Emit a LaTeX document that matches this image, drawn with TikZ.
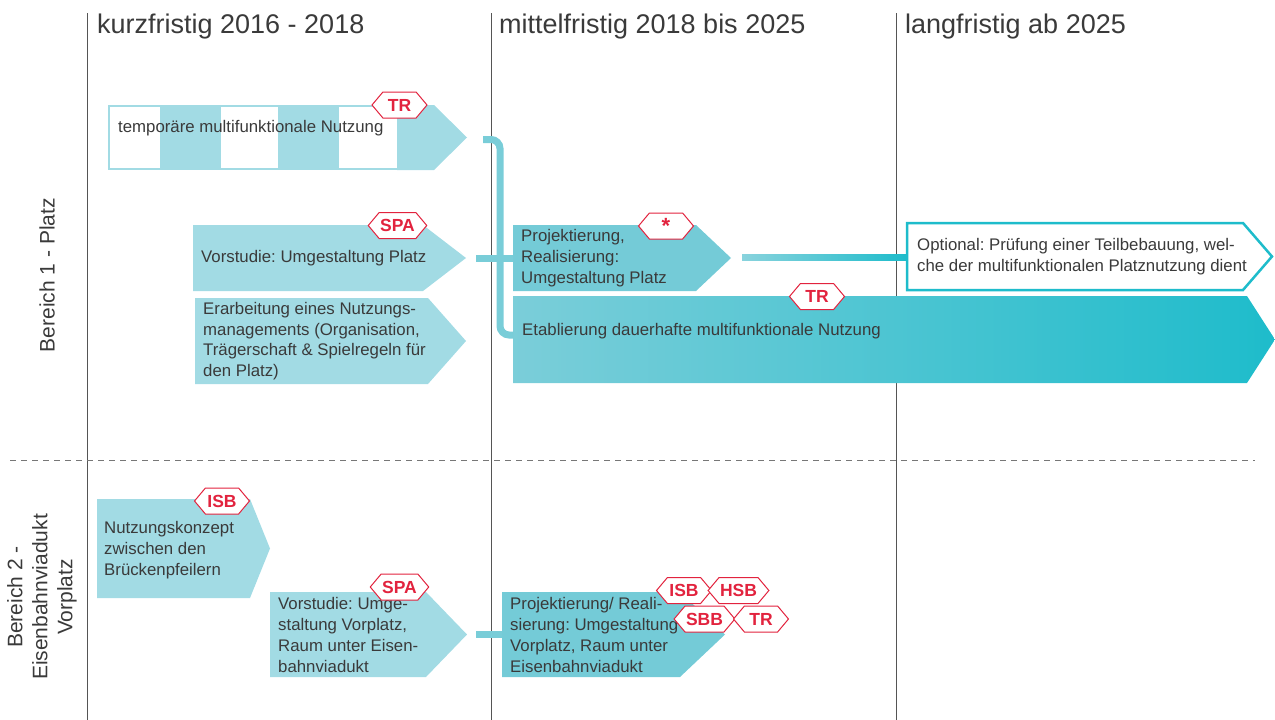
\documentclass[tikz,border=0pt]{standalone}
\usepackage{fontspec}
\setmainfont{Liberation Sans}
\usetikzlibrary{calc,shapes.symbols}
\frenchspacing

\definecolor{lightblue}{HTML}{A2DBE4}
\definecolor{midblue}{HTML}{74CBD7}
\definecolor{teal}{HTML}{1EBCCB}
\definecolor{badgered}{HTML}{E2233E}
\definecolor{txtgray}{HTML}{3A3A3A}
\definecolor{linegray}{HTML}{555555}

% arrow body: name, path options, left, top, head start, bottom, tip
\newcommand{\phasearrow}[7]{%
  \path[#2] (#3,#4) -- (#5,#4) -- (#7,{(#4+#6)/2}) -- (#5,#6) -- (#3,#6) -- cycle;
  \coordinate (#1-in) at (#3,{(#4+#6)/2});
  \coordinate (#1-tip) at (#7,{(#4+#6)/2});}

\tikzset{
  steptext/.style={anchor=west, align=left, inner sep=0pt, text=txtgray,
    font=\fontsize{16.8}{20.7}\selectfont},
  header/.style={anchor=base west, inner sep=0pt, text=txtgray,
    font=\fontsize{27}{30}\selectfont},
  sidelabel/.style={rotate=90, align=center, inner sep=0pt, text=txtgray,
    font=\fontsize{21}{25}\selectfont},
  badge/.style={shape=signal, signal to=west and east, signal pointer angle=100,
    draw=badgered, line width=1pt, fill=white, text=badgered,
    minimum width=55pt, minimum height=26pt, inner sep=1pt,
    font=\fontsize{17.5}{18}\selectfont\bfseries},
  link/.style={line width=7pt, midblue!90!lightblue},
}

\begin{document}
\begin{tikzpicture}[x=1pt, y=-1pt]
  \useasboundingbox (0,0) rectangle (1275,720);

  % time columns
  \foreach \xx in {87,491,896}
    \draw[linegray, line width=1pt] (\xx,13) -- (\xx,720);
  \draw[linegray!80, line width=1pt, dash pattern=on 6pt off 5pt] (10,460) -- (1255,460);

  \node[header] (kurz) at (97,33) {kurzfristig 2016 - 2018};
  \node[header] (mittel) at (499,33) {mittelfristig 2018 bis 2025};
  \node[header] (lang) at (905,33) {langfristig ab 2025};

  \node[sidelabel] (bereichA) at (47,275) {Bereich 1 - Platz};
  \node[sidelabel] (bereichB) at (42,597) {Bereich 2 -\\Eisenbahnviadukt\\Vorplatz};

  % Bereich 1
  \foreach \a/\b in {160/221,278/339}
    \fill[lightblue] (\a,105) rectangle (\b,170);
  \draw[lightblue, line width=2pt] (109,106) rectangle (398,169);
  \phasearrow{temp}{fill=lightblue}{397}{105}{434}{170}{467}
  \node[steptext] (tempText) at (118,128) {temporäre multifunktionale Nutzung};

  \phasearrow{vorPlatz}{fill=lightblue}{193}{225}{423}{291}{466}
  \node[steptext] (vorPlatzText) at (201,258) {Vorstudie: Umgestaltung Platz};

  \phasearrow{erarb}{fill=lightblue}{195}{298}{428}{384}{466}
  \node[steptext] (erarbText) at (203,341) {Erarbeitung eines Nutzungs-\\managements (Organisation,\\Trägerschaft \& Spielregeln für\\den Platz)};

  \phasearrow{projPlatz}{fill=midblue}{513}{225}{696}{291}{731}
  \node[steptext] (projPlatzText) at (521,258) {Projektierung,\\Realisierung:\\Umgestaltung Platz};

  \phasearrow{etab}{left color=midblue!95!white, right color=teal}{513}{296}{1247}{383}{1275}
  \node[steptext] (etabText) at (522,331) {Etablierung dauerhafte multifunktionale Nutzung};

  \phasearrow{optional}{fill=white, draw=teal, line width=2.5pt}{907}{223}{1243}{290}{1272}
  \node[steptext] (optionalText) at (917,256.5) {Optional: Prüfung einer Teilbebauung, wel-\\che der multifunktionalen Platznutzung dient};

  \draw[link, rounded corners=9pt] ($(temp-tip)+(16,2)$) -| ($(etab-in)+(-13,-4.5)$) -- ($(etab-in)+(0,-4.5)$);
  \draw[link] ($(vorPlatz-tip)+(10,0)$) -- (projPlatz-in);
  \shade[left color=midblue!85!white, right color=teal] ($(projPlatz-tip)+(11,-4)$) rectangle ($(optional-in)+(-1,4)$);

  \node[badge] (trTemp) at (399.5,105) {TR};
  \node[badge] (spaPlatz) at (397.5,225.5) {SPA};
  \node[badge] (starProj) at (666,226) {\fontsize{22}{22}\selectfont\raisebox{-6pt}{*}};
  \node[badge] (trEtab) at (817,296.5) {TR};

  % Bereich 2
  \phasearrow{nutzKonz}{fill=lightblue}{97}{499}{250}{598}{270}
  \node[steptext] (nutzKonzText) at (104,550) {Nutzungskonzept\\zwischen den\\Brückenpfeilern};

  \phasearrow{vorVorplatz}{fill=lightblue}{270}{592}{426}{677}{467}
  \node[steptext] (vorVorplatzText) at (278,635) {Vorstudie: Umge-\\staltung Vorplatz,\\Raum unter Eisen-\\bahnviadukt};

  \phasearrow{projVorplatz}{fill=midblue}{502}{592}{680}{677}{725}
  \node[steptext] (projVorplatzText) at (510,635) {Projektierung/ Reali-\\sierung: Umgestaltung\\Vorplatz, Raum unter\\Eisenbahnviadukt};

  \draw[link] ($(vorVorplatz-tip)+(9,0)$) -- (projVorplatz-in);

  \node[badge] (isbKonz) at (222,501) {ISB};
  \node[badge] (spaVorplatz) at (399.5,587) {SPA};
  \node[badge] (isbProj) at (684,590.5) {ISB};
  \node[badge] (hsbProj) at (738.5,590.5) {HSB};
  \node[badge] (sbbProj) at (704.5,619) {SBB};
  \node[badge] (trProj) at (761,619) {TR};
\end{tikzpicture}
\end{document}
